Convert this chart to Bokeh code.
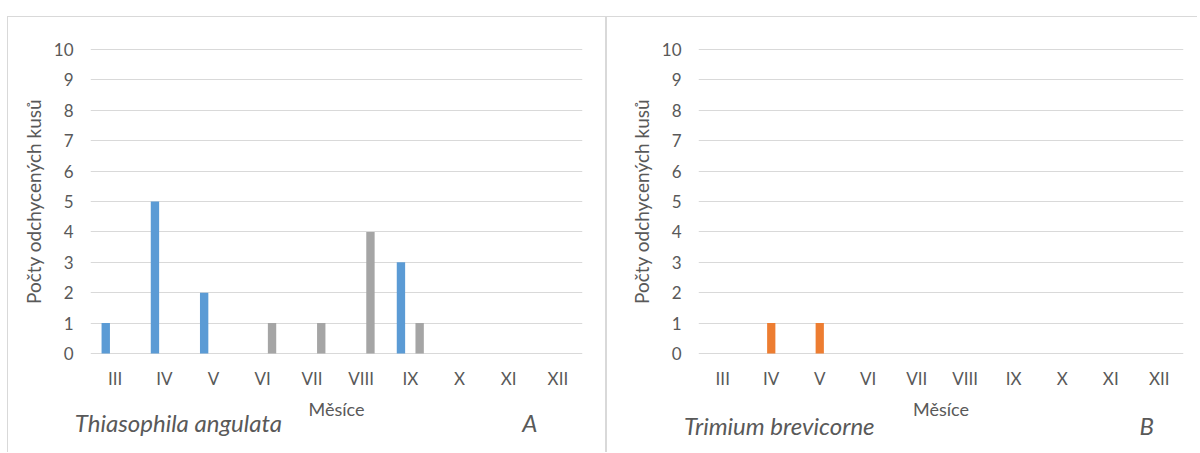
from bokeh.plotting import figure
from bokeh.layouts import row
from bokeh.models import (ColumnDataSource, FactorRange, Range1d, FixedTicker,
                          CategoricalAxis)
from bokeh.transform import dodge
from bokeh.embed import file_html
from bokeh.resources import INLINE

months = ["III", "IV", "V", "VI", "VII", "VIII", "IX", "X", "XI", "XII"]
a_series_1 = [1, 5, 2, 0, 0, 0, 3, 0, 0, 0]
a_series_2 = [0, 0, 0, 0, 0, 0, 0, 0, 0, 0]
a_series_3 = [0, 0, 0, 1, 1, 4, 1, 0, 0, 0]
b_series_1 = [0, 0, 0, 0, 0, 0, 0, 0, 0, 0]
b_series_2 = [0, 1, 1, 0, 0, 0, 0, 0, 0, 0]
b_series_3 = [0, 0, 0, 0, 0, 0, 0, 0, 0, 0]
y_ticks = [0, 1, 2, 3, 4, 5, 6, 7, 8, 9, 10]
x_title = "Měsíce"
y_title = "Počty odchycených kusů"
species_a = "Thiasophila angulata"
species_b = "Trimium brevicorne"

FONT = "Lato"
TXT = "#595959"
GRID = "#D9D9D9"
COLORS = ["#5B9BD5", "#ED7D31", "#A5A5A5"]


def style_axis(ax, size):
    ax.axis_line_color = None
    ax.major_tick_line_color = None
    ax.minor_tick_line_color = None
    ax.major_tick_out = 0
    ax.major_tick_in = 0
    ax.minor_tick_out = 0
    ax.minor_tick_in = 0
    ax.major_label_text_font = FONT
    ax.major_label_text_font_size = size
    ax.major_label_text_color = TXT
    ax.axis_label_text_font = FONT
    ax.axis_label_text_color = TXT
    ax.axis_label_text_font_style = "normal"


def caption_slots(n, i_species, i_letter, species, letter):
    # n equal slots across the plot width; blank slots are spaces
    slots = [" " * (k + 1) for k in range(n)]
    slots[i_species] = species
    slots[i_letter] = letter
    return slots


def panel(s1, s2, s3, width, height, mb_left, mb_right, mb_top, mb_bottom,
          caption, sp_standoff, styles):
    src = ColumnDataSource(dict(m=months, s1=s1, s2=s2, s3=s3))
    p = figure(x_range=FactorRange(*months, range_padding=0),
               y_range=Range1d(-0.1, 10.1),
               width=width, height=height, output_backend="svg",
               toolbar_location=None,
               min_border_left=mb_left, min_border_right=mb_right,
               min_border_top=mb_top, min_border_bottom=mb_bottom)
    for col, off, c in (("s1", -0.19, COLORS[0]), ("s2", 0.0, COLORS[1]), ("s3", 0.19, COLORS[2])):
        p.vbar(x=dodge("m", off, range=p.x_range), top=col, bottom=0, width=0.17,
               source=src, fill_color=c, line_color=None)
    p.outline_line_color = None
    p.xgrid.grid_line_color = None
    p.ygrid.grid_line_color = GRID
    p.ygrid.grid_line_width = 1
    p.yaxis.ticker = FixedTicker(ticks=y_ticks)
    style_axis(p.xaxis[0], "17px")
    style_axis(p.yaxis[0], "17px")
    p.xaxis.axis_label_text_font_size = "18px"
    p.yaxis.axis_label_text_font_size = "19px"
    p.yaxis.major_label_standoff = 17
    p.xaxis.major_label_standoff = 11
    p.xaxis.axis_label = x_title
    p.yaxis.axis_label = y_title
    p.xaxis.axis_label_standoff = 6
    p.yaxis.axis_label_standoff = 6

    # caption row (species name + panel letter) as an auxiliary categorical axis below
    p.extra_x_ranges = {"caption": FactorRange(*caption, range_padding=0)}
    cap = CategoricalAxis(x_range_name="caption")
    style_axis(cap, "24px")
    cap.major_label_text_font_style = "italic"
    cap.major_label_standoff = sp_standoff
    p.add_layout(cap, "below")
    p.styles = styles
    return p


BORDER = "1px solid #D9D9D9"
pa = panel(a_series_1, a_series_2, a_series_3, 599, 436, 82, 25, 29, 97,
           caption_slots(14, 2, 12, species_a, "A"), -15,
           {"border-left": BORDER, "border-top": BORDER, "border-right": BORDER,
            "margin-top": "16px", "margin-left": "7px"})
pb = panel(b_series_1, b_series_2, b_series_3, 591, 436, 91, 15, 22, 93,
           caption_slots(33, 5, 30, species_b, "B"), -12,
           {"border-left": BORDER, "border-top": BORDER, "margin-top": "16px"})

layout = row(pa, pb)
open("out.html", "w").write(file_html(layout, INLINE))
